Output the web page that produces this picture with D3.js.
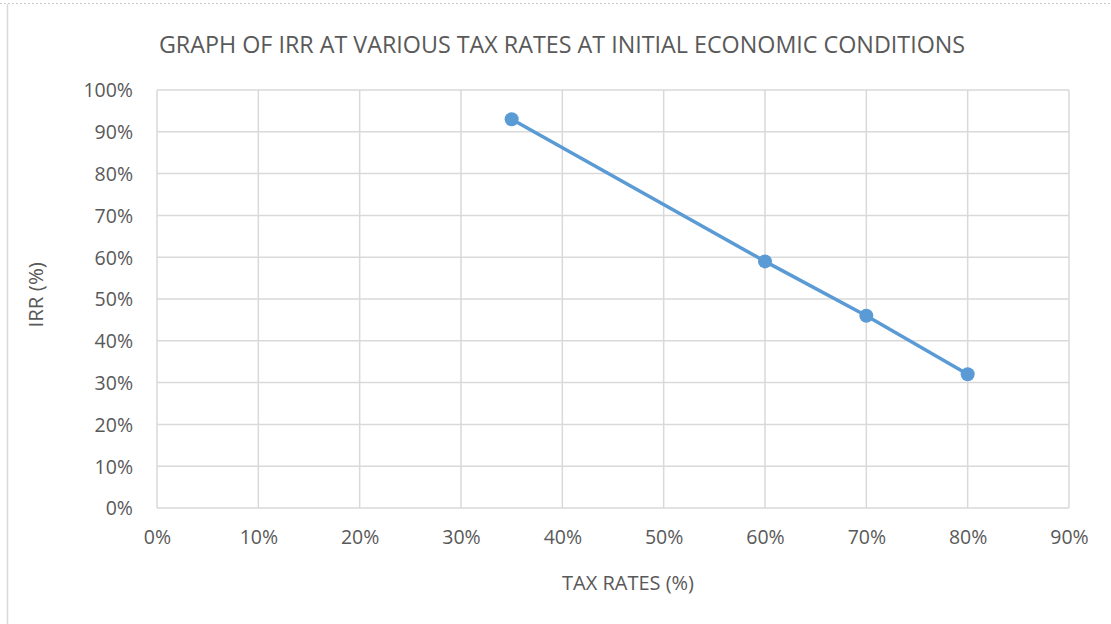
<!DOCTYPE html>
<html>
<head>
    <title>IRR vs tax rate</title>
    <script src="https://d3js.org/d3.v7.min.js"></script>
    <style>
        body { margin: 0; background: #fff; }
        text { font-family: "Open Sans", "Liberation Sans", sans-serif; fill: #595959; }
    </style>
</head>
<body>
    <svg width="1111" height="624"></svg>
    <script>
        // data
        var taxRates = [0.35, 0.60, 0.70, 0.80];
        var irr = [0.93, 0.59, 0.46, 0.32];
        var xTicks = [0, 0.1, 0.2, 0.3, 0.4, 0.5, 0.6, 0.7, 0.8, 0.9];
        var yTicks = [0, 0.1, 0.2, 0.3, 0.4, 0.5, 0.6, 0.7, 0.8, 0.9, 1.0];
        var title = "GRAPH OF IRR AT VARIOUS TAX RATES AT INITIAL ECONOMIC CONDITIONS";

        var svg = d3.select("svg");
        var pct = d3.format(".0%");

        var x = d3.scaleLinear().domain([0, 0.9]).range([157, 1069]);
        var y = d3.scaleLinear().domain([0, 1]).range([508, 90]);

        // outer frame bits
        svg.append("line").attr("x1", 0).attr("x2", 1111).attr("y1", 3.5).attr("y2", 3.5)
            .attr("stroke", "#c8c8c8").attr("stroke-dasharray", "2,2");
        svg.append("line").attr("x1", 7.5).attr("x2", 7.5).attr("y1", 4).attr("y2", 624)
            .attr("stroke", "#d9d9d9").attr("stroke-width", 1.5);

        // gridlines
        svg.append("g").selectAll("line").data(yTicks).enter().append("line")
            .attr("x1", x(0)).attr("x2", x(0.9))
            .attr("y1", function(d) { return y(d); }).attr("y2", function(d) { return y(d); })
            .attr("stroke", "#d9d9d9").attr("stroke-width", 1.5);
        svg.append("g").selectAll("line").data(xTicks).enter().append("line")
            .attr("y1", y(0)).attr("y2", y(1))
            .attr("x1", function(d) { return x(d); }).attr("x2", function(d) { return x(d); })
            .attr("stroke", "#d9d9d9").attr("stroke-width", 1.5);

        // axes (labels only)
        var xAxis = svg.append("g").attr("transform", "translate(0," + y(0) + ")")
            .call(d3.axisBottom(x).tickValues(xTicks).tickFormat(pct).tickSize(0).tickPadding(22));
        var yAxis = svg.append("g").attr("transform", "translate(" + x(0) + ",0)")
            .call(d3.axisLeft(y).tickValues(yTicks).tickFormat(pct).tickSize(0).tickPadding(24));
        [xAxis, yAxis].forEach(function(a) {
            a.select(".domain").remove();
            a.selectAll("text").style("font-size", "19.5px").attr("fill", "#595959")
                .style("font-family", "'Open Sans', 'Liberation Sans', sans-serif");
        });
        yAxis.selectAll("text").attr("dy", "0.35em");

        // titles
        svg.append("text").attr("x", 562).attr("y", 53).attr("text-anchor", "middle")
            .style("font-size", "23.3px").text(title);
        svg.append("text").attr("x", 628).attr("y", 590).attr("text-anchor", "middle")
            .style("font-size", "20px").text("TAX RATES (%)");
        svg.append("text").attr("transform", "translate(43," + y(0.51) + ") rotate(-90)")
            .attr("text-anchor", "middle").style("font-size", "20.5px").text("IRR (%)");

        // series
        var pts = taxRates.map(function(t, i) { return { x: t, y: irr[i] }; });
        var line = d3.line().x(function(d) { return x(d.x); }).y(function(d) { return y(d.y); });
        svg.append("path").datum(pts).attr("d", line)
            .attr("fill", "none").attr("stroke", "#5B9BD5").attr("stroke-width", 3.5)
            .attr("stroke-linejoin", "round");
        svg.selectAll(".dot").data(pts).enter().append("circle")
            .attr("class", "dot")
            .attr("cx", function(d) { return x(d.x); })
            .attr("cy", function(d) { return y(d.y); })
            .attr("r", 7)
            .attr("fill", "#5B9BD5");
    </script>
</body>
</html>
